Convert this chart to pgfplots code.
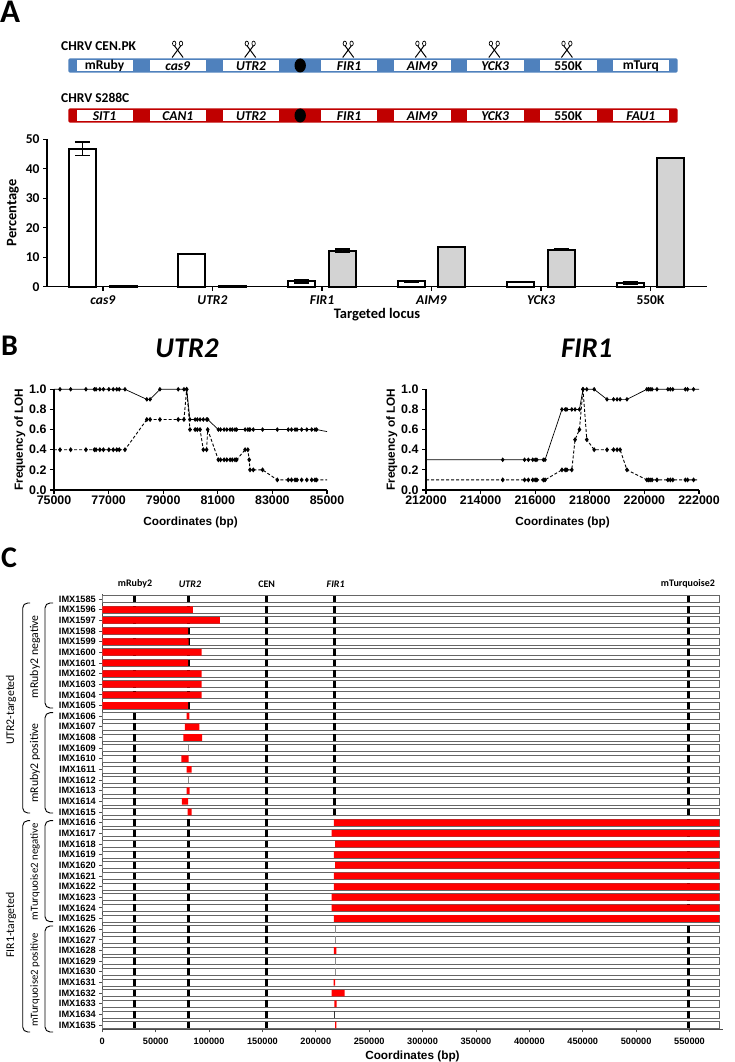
\documentclass[border=0pt]{standalone}
\usepackage{fontspec}
\setmainfont{Liberation Sans}
\newfontfamily\calfont{Carlito}
\usepackage{pgfplots}
\usepackage{pgfplotstable}
\pgfplotsset{compat=1.18}
\definecolor{chrblue}{HTML}{4F81BD}
\definecolor{chrred}{HTML}{C00000}
\definecolor{bargrey}{HTML}{D3D3D3}

% panel A
\pgfplotstableread{
xa xb w we g ge
-0.187 0.187 46.8 2.3 0.3 0.1
0.813 1.187 11.0 0.1 0.1 0.05
1.813 2.187 1.8 0.5 12.2 0.5
2.813 3.187 1.8 0.3 13.5 0.1
3.813 4.187 1.5 0.1 12.6 0.2
4.813 5.187 1.2 0.4 43.7 0.2
}\tblA

% panel B
\pgfplotstableread{
x a b
75000 1 .4
75220 1 .4
75610 1 .4
76170 1 .4
76480 1 .4
76540 1 .4
76680 1 .4
76810 1 .4
77010 1 .4
77170 1 .4
77300 1 .4
77390 1 .4
77600 1 .4
78400 .9 .7
78520 .9 .7
78880 1 .7
79550 1 .7
79760 1 .7
79860 1 1
79980 .7 .6
80170 .7 .6
80250 .7 .6
80350 .7 .6
80470 .7 .4
80590 .7 .4
80630 .7 .6
81020 .6 .3
81100 .6 .3
81230 .6 .3
81330 .6 .3
81450 .6 .3
81530 .6 .3
81630 .6 .3
81690 .6 .3
82000 .6 .4
82100 .6 .4
82150 .6 .3
82180 .6 .2
82300 .6 .2
82640 .6 .2
83180 .6 .1
83580 .6 .1
83700 .6 .1
83830 .6 .1
83900 .6 .1
84070 .6 .1
84260 .6 .1
84440 .6 .1
84560 .6 .1
84620 .6 .1
85000 .58 .1
}\tblUTR
\pgfplotstableread{
x a b
212000 .3 .1
214810 .3 .1
215610 .3 .1
215750 .3 .1
215910 .3 .1
216000 .3 .1
216060 .3 .1
216300 .3 .1
216360 .3 .1
216980 .8 .2
217100 .8 .2
217160 .8 .2
217340 .8 .2
217460 .8 .5
217620 .8 .6
217750 1 1
217890 1 .5
218160 1 .4
218630 .9 .4
218870 .9 .4
219000 .9 .4
219110 .9 .4
219360 .9 .2
220090 1 .1
220150 1 .1
220210 1 .1
220280 1 .1
220460 1 .1
220860 1 .1
220950 1 .1
221040 1 .1
221500 1 .1
221580 1 .1
221800 1 .1
222000 1 .1
}\tblFIR

% panel C: strains and the markers each one still carries
\pgfplotstableread{
row name mruby utr cen fir turq end
0 IMX1585 30300 80600 153700 217400 549000 578000
1 IMX1596 30300 80600 153700 217400 549000 578000
2 IMX1597 30300 80600 153700 217400 549000 578000
3 IMX1598 30300 80600 153700 217400 549000 578000
4 IMX1599 30300 80600 153700 217400 549000 578000
5 IMX1600 30300 80600 153700 217400 549000 578000
6 IMX1601 30300 80600 153700 217400 549000 578000
7 IMX1602 30300 80600 153700 217400 549000 578000
8 IMX1603 30300 80600 153700 217400 549000 578000
9 IMX1604 30300 80600 153700 217400 549000 578000
10 IMX1605 30300 80600 153700 217400 549000 578000
11 IMX1606 30300 nan 153700 217400 549000 578000
12 IMX1607 30300 nan 153700 217400 549000 578000
13 IMX1608 30300 nan 153700 217400 549000 578000
14 IMX1609 30300 nan 153700 217400 549000 578000
15 IMX1610 30300 nan 153700 217400 549000 578000
16 IMX1611 30300 nan 153700 217400 549000 578000
17 IMX1612 30300 nan 153700 217400 549000 578000
18 IMX1613 30300 nan 153700 217400 549000 578000
19 IMX1614 30300 nan 153700 217400 549000 578000
20 IMX1615 30300 nan 153700 217400 549000 578000
21 IMX1616 30300 80600 153700 nan 549000 578000
22 IMX1617 30300 80600 153700 nan 549000 578000
23 IMX1618 30300 80600 153700 nan 549000 578000
24 IMX1619 30300 80600 153700 nan 549000 578000
25 IMX1620 30300 80600 153700 nan 549000 578000
26 IMX1621 30300 80600 153700 nan 549000 578000
27 IMX1622 30300 80600 153700 nan 549000 578000
28 IMX1623 30300 80600 153700 nan 549000 578000
29 IMX1624 30300 80600 153700 nan 549000 578000
30 IMX1625 30300 80600 153700 nan 549000 578000
31 IMX1626 30300 80600 153700 nan 549000 578000
32 IMX1627 30300 80600 153700 nan 549000 578000
33 IMX1628 30300 80600 153700 nan 549000 578000
34 IMX1629 30300 80600 153700 nan 549000 578000
35 IMX1630 30300 80600 153700 nan 549000 578000
36 IMX1631 30300 80600 153700 nan 549000 578000
37 IMX1632 30300 80600 153700 nan 549000 578000
38 IMX1633 30300 80600 153700 nan 549000 578000
39 IMX1634 30300 80600 153700 nan 549000 578000
40 IMX1635 30300 80600 153700 nan 549000 578000
}\tblRows

% LOH segments: start and length
\pgfplotstableread{
row start len
1 0 84900
2 0 110200
3 0 80300
4 0 80900
5 0 93100
6 0 80300
7 0 93100
8 0 93100
9 0 93100
10 0 80300
11 79000 2500
12 77400 13500
13 75900 17500
15 74000 6900
16 79000 4700
18 79000 2800
19 74600 5700
20 80000 3700
21 217000 361000
22 214900 363100
23 218000 360000
24 217000 361000
25 218000 360000
26 217000 361000
27 217000 361000
28 214900 363100
29 214900 363100
30 217000 361000
33 217000 2200
36 216700 1300
37 214900 12100
38 217400 2100
40 218000 1200
}\tblLOH

\pgfplotsset{
  panelB/.style={
    scale only axis, width=273pt, height=100.7pt,
    axis x line=bottom, axis y line=left, axis line style={-, line width=1.3pt},
    tick style={line width=1.1pt, black}, tick align=outside, major tick length=4pt,
    ymin=0, ymax=1, ytick={0,0.2,...,1}, clip=false,
    /pgf/number format/assume math mode=true,
    /pgf/number format/fixed,
    /pgf/number format/1000 sep={},
    scaled x ticks=false, scaled y ticks=false,
    yticklabel style={/pgf/number format/fixed zerofill, /pgf/number format/precision=1},
    ticklabel style={font=\fontsize{12.4}{13}\selectfont\bfseries},
    label style={font=\fontsize{11.8}{13}\selectfont\bfseries},
    xlabel={Coordinates (bp)}, ylabel={Frequency of LOH},
    xticklabel style={yshift=1.5pt},
    xlabel style={yshift=-5pt},
    ylabel style={yshift=-3pt},
  },
  solidLOH/.style={black, line width=.7pt, mark=diamond*, mark size=1.8pt, mark options={solid}},
  dashLOH/.style={black, line width=.9pt, dash pattern=on 3pt off 2pt, mark=diamond*, mark size=1.8pt, mark options={solid}},
  panelC/.style={
    scale only axis, width=620.3pt, height=435.3pt,
    xmin=0, xmax=581000, ymin=-0.47, ymax=40.4, y dir=reverse,
  },
  cerrors/.style={
    error bars/.cd, y dir=both, y explicit,
    error bar style={line width=1.5pt},
    error mark options={rotate=90, mark size=7.5pt, line width=1.5pt},
  },
}

\begin{document}
\begin{tikzpicture}[x=1pt,y=1pt]
\path[use as bounding box] (0,0) rectangle (735,1062);

% panel letters
\node[anchor=base west, inner sep=0pt, font=\calfont\fontsize{33}{33}\selectfont\bfseries] at (0,1039) {A};
\node[anchor=base west, inner sep=0pt, font=\calfont\fontsize{30}{30}\selectfont\bfseries] at (1,706) {B};
\node[anchor=base west, inner sep=0pt, font=\calfont\fontsize{30}{30}\selectfont\bfseries] at (1,494) {C};

% chromosome schematics
\fill[chrblue, rounded corners=1.5pt] (68.3,989.3) rectangle (677.6,1003.7);
\fill[chrred, rounded corners=1.5pt] (68.3,939.3) rectangle (677.6,953.7);
\foreach \xa/\xb in {76.8/133.4,149.8/205.9,222.9/279,320.9/377.4,393.9/450.5,467/523.5,540/596.5,612.6/669} {
  \fill[white] (\xa,991.3) rectangle (\xb,1001.7);
  \fill[white] (\xa,941.3) rectangle (\xb,951.7);
}
\fill[black] (300.2,996.5) ellipse (5.7 and 7);
\fill[black] (300.2,946.5) ellipse (5.7 and 7);
\begin{scope}[font=\calfont\fontsize{13.5}{14}\selectfont\bfseries]
\node[anchor=west, inner sep=0pt] at (61,1016.3) {CHRV CEN.PK};
\node[anchor=west, inner sep=0pt] at (61,964.3) {CHRV S288C};
\foreach \c/\t in {104.5/mRuby,177.8/\textit{cas9},251/\textit{UTR2},349.1/\textit{FIR1},422.2/\textit{AIM9},495.2/\textit{YCK3},568.2/550K,640.8/mTurq}
  \node[inner sep=0pt] at (\c,996.3) {\t};
\foreach \c/\t in {104.5/\textit{SIT1},177.8/\textit{CAN1},251/\textit{UTR2},349.1/\textit{FIR1},422.2/\textit{AIM9},495.2/\textit{YCK3},568.2/550K,640.8/\textit{FAU1}}
  \node[inner sep=0pt] at (\c,946.3) {\t};
\end{scope}
\foreach \x in {177.6,250.2,348.2,420.8,494.3,566.9} {
  \draw[line width=1pt] (\x-5.5,1004.5) -- (\x+3,1016);
  \draw[line width=1pt] (\x+5.5,1004.5) -- (\x-3,1016);
  \draw[line width=.7pt] (\x-3.4,1018.5) ellipse (1.7 and 2.4);
  \draw[line width=.7pt] (\x+3.4,1018.5) ellipse (1.7 and 2.4);
}

% panel A bars
\begin{axis}[
  at={(47pt,775.3pt)}, anchor=south west, scale only axis,
  width=660pt, height=147.4pt,
  xmin=-0.511, xmax=5.516, ymin=0, ymax=50,
  axis x line=bottom, axis y line=left, axis line style={-, line width=1.5pt},
  tick style={line width=1.2pt, black}, tick align=outside, major tick length=4pt,
  xtick={0,...,5},
  xticklabels={\textit{cas9},\textit{UTR2},\textit{FIR1},\textit{AIM9},\textit{YCK3},550K},
  ytick={0,10,...,50},
  /pgf/number format/assume math mode=true,
  ticklabel style={font=\calfont\fontsize{13.5}{14}\selectfont\bfseries},
  label style={font=\calfont\fontsize{14.5}{15}\selectfont\bfseries},
  xlabel={Targeted locus}, ylabel={Percentage},
  xticklabel style={yshift=-1.5pt},
  xlabel style={yshift=3pt}, ylabel style={yshift=0pt},
  clip=false,
]
\addplot[ybar, bar width=27pt, bar shift=0pt, draw=black, fill=white, line width=2pt, cerrors]
  table[x=xa, y=w, y error=we] {\tblA};
\addplot[ybar, bar width=27pt, bar shift=0pt, draw=black, fill=bargrey, line width=2pt, cerrors]
  table[x=xb, y=g, y error=ge] {\tblA};
\end{axis}

% panel B
\node[font=\calfont\fontsize{28.5}{30}\selectfont\bfseries\itshape, anchor=base, inner sep=0pt] at (187,704) {UTR2};
\node[font=\calfont\fontsize{28.5}{30}\selectfont\bfseries\itshape, anchor=base, inner sep=0pt] at (586.7,704) {FIR1};
\begin{axis}[panelB, at={(54pt,572pt)}, anchor=south west,
  xmin=75000, xmax=85000, xtick={75000,77000,...,85000}]
\addplot[solidLOH, mark indices={2,...,50}] table[x=x, y=a] {\tblUTR};
\addplot[dashLOH, mark indices={2,...,50}] table[x=x, y=b] {\tblUTR};
\end{axis}
\begin{axis}[panelB, at={(426pt,572pt)}, anchor=south west,
  xmin=212000, xmax=222000, xtick={212000,214000,...,222000}]
\addplot[solidLOH, mark indices={2,...,34}] table[x=x, y=a] {\tblFIR};
\addplot[dashLOH, mark indices={2,...,34}] table[x=x, y=b] {\tblFIR};
\end{axis}

% panel C rows and markers
\begin{axis}[panelC, at={(102.3pt,32.7pt)}, anchor=south west,
  axis x line=bottom, axis y line=left, axis line style={-, line width=.9pt, black!70},
  tick style={line width=.8pt, black!70}, tick align=outside, major tick length=3pt,
  xtick={0,50000,...,550000}, ytick={0,...,40},
  yticklabels from table={\tblRows}{name},
  /pgf/number format/assume math mode=true,
  /pgf/number format/fixed,
  /pgf/number format/1000 sep={}, scaled x ticks=false,
  ticklabel style={font=\fontsize{9.2}{10}\selectfont\bfseries},
  xticklabel style={yshift=-2pt},
  xlabel={Coordinates (bp)},
  label style={font=\fontsize{11.8}{13}\selectfont\bfseries},
]
\addplot[xbar, bar width=7pt, bar shift=0pt, fill=white, draw=black!60, line width=.7pt] table[x=end, y=row] {\tblRows};
\foreach \col in {mruby,utr,cen,fir,turq} {
  \addplot[only marks, mark=|, mark size=3.4pt, mark options={line width=3.6pt, black}] table[x=\col, y=row] {\tblRows};
}
% strains where only a sliver remains of the targeted locus
\addplot[only marks, mark=|, mark size=3.4pt, mark options={line width=.9pt, black!45}] coordinates {
  (80300,14) (80300,17) (218000,31) (218000,32) (218000,34) (218000,35)};
\addplot[only marks, mark=|, mark size=3.4pt, mark options={line width=.9pt, black!80}] coordinates {(217700,39)};
\end{axis}
\begin{axis}[panelC, at={(102.3pt,32.7pt)}, anchor=south west, hide axis, xbar stacked, bar width=6.6pt]
\addplot[draw=none, fill=none] table[x=start, y=row] {\tblLOH};
\addplot[draw=none, fill=red] table[x=len, y=row] {\tblLOH};
\end{axis}

% panel C headers, groups
\begin{scope}[font=\calfont\fontsize{10}{11}\selectfont\bfseries]
\node at (135,478) {mRuby2};
\node at (190,478) {\textit{UTR2}};
\node at (266.7,478) {CEN};
\node at (335.7,478) {\textit{FIR1}};
\node at (688,478) {mTurquoise2};
\end{scope}
\begin{scope}[font=\calfont\fontsize{11.8}{13}\selectfont]
\node[rotate=90] at (35,405.3) {mRuby2 negative};
\node[rotate=90] at (35,299) {mRuby2 positive};
\node[rotate=90] at (11,352) {UTR2-targeted};
\node[rotate=90] at (11,137) {FIR1-targeted};
\end{scope}
\begin{scope}[font=\calfont\fontsize{10.8}{13}\selectfont]
\node[rotate=90] at (35,190.3) {mTurquoise2 negative};
\node[rotate=90] at (35,82) {mTurquoise2 positive};
\end{scope}
\begin{scope}[line width=.9pt, rounded corners=5pt]
\draw (30,459) -- (22.7,459) -- (22.7,249) -- (30,249);
\draw (30,241.3) -- (22.7,241.3) -- (22.7,30) -- (30,30);
\draw (53,459) -- (45,459) -- (45,354) -- (53,354);
\draw (53,349.3) -- (45,349.3) -- (45,249) -- (53,249);
\draw (53,241.3) -- (45,241.3) -- (45,140.3) -- (53,140.3);
\draw (53,136) -- (45,136) -- (45,30) -- (53,30);
\end{scope}
\end{tikzpicture}
\end{document}
